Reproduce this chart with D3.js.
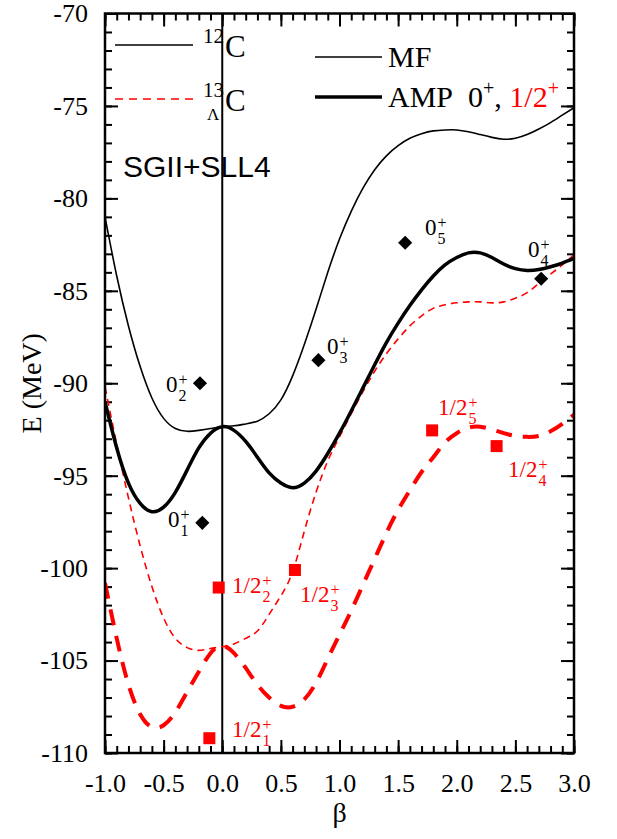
<!doctype html>
<html lang="en">
  <head>
    <meta charset="utf-8">
    <title>E vs beta, 12C and 13C-Lambda</title>
    <script src="https://d3js.org/d3.v7.min.js"></script>
    <style>
    body { margin: 0; background: #fff; }
    text { font-family: "Liberation Serif", "Times New Roman", serif; }
    .axis path { display: none; }
    .axis line { stroke: #000; stroke-width: 2; }
    </style>
  </head>

  <body>
    <svg width="617" height="839"></svg>

    <script>
      // deformation grid (beta) shared by all four curves
      var beta = [-1.0, -0.9, -0.8, -0.7, -0.6, -0.5, -0.4, -0.3, -0.2, -0.1,
                   0.0,  0.1,  0.2,  0.3,  0.4,  0.5,  0.6,  0.7,  0.8,  0.9,
                   1.0,  1.1,  1.2,  1.3,  1.4,  1.5,  1.6,  1.7,  1.8,  1.9,
                   2.0,  2.1,  2.2,  2.3,  2.4,  2.5,  2.6,  2.7,  2.8,  2.9, 3.0];

      // 12C, mean field
      var mfC12 = [-81.0, -84.2, -86.9, -89.1, -90.8, -91.9, -92.45, -92.6, -92.55, -92.45,
                   -92.35, -92.3, -92.2, -92.05, -91.65, -90.9, -89.6, -87.9, -86.0, -84.0,
                   -82.2, -80.7, -79.45, -78.45, -77.7, -77.15, -76.75, -76.5, -76.35, -76.3,
                   -76.3, -76.4, -76.55, -76.7, -76.8, -76.75, -76.55, -76.25, -75.9, -75.5, -75.1];

      // 12C, AMP
      var ampC12 = [-91.0, -93.5, -95.4, -96.5, -96.95, -96.7, -95.9, -94.7, -93.5, -92.7,
                    -92.35, -92.55, -93.15, -94.0, -94.85, -95.4, -95.65, -95.4, -94.75, -93.8,
                    -92.7, -91.5, -90.25, -89.0, -87.8, -86.75, -85.8, -84.95, -84.2, -83.6,
                    -83.2, -82.95, -82.95, -83.2, -83.55, -83.8, -83.9, -83.85, -83.7, -83.5, -83.25];

      // 13LC, mean field
      var mfL13 = [-90.2, -93.3, -96.2, -98.8, -101.0, -102.7, -103.8, -104.3, -104.45, -104.35,
                   -104.25, -104.1, -103.8, -103.4, -102.5, -101.5, -100.2, -98.0, -95.9, -94.2,
                   -92.9, -91.65, -90.45, -89.35, -88.4, -87.6, -86.9, -86.35, -85.95, -85.75,
                   -85.65, -85.6, -85.6, -85.65, -85.6, -85.4, -85.1, -84.6, -84.1, -83.6, -83.05];

      // 13LC, AMP
      var ampL13 = [-100.8, -103.8, -106.3, -107.9, -108.6, -108.5, -107.8, -106.7, -105.6, -104.6,
                    -104.2, -104.6, -105.4, -106.3, -107.0, -107.45, -107.5, -107.1, -106.2, -104.9,
                    -103.6, -102.3, -100.9, -99.5, -98.1, -96.85, -95.8, -94.8, -94.0, -93.2,
                    -92.7, -92.4, -92.35, -92.5, -92.7, -92.85, -92.9, -92.85, -92.6, -92.2, -91.7];

      // AMP levels
      var levels0 = [
        {name: '0', sub: '1', b: -0.17, e: -97.55},
        {name: '0', sub: '2', b: -0.19, e: -90.0},
        {name: '0', sub: '3', b: 0.82, e: -88.75},
        {name: '0', sub: '4', b: 2.72, e: -84.35},
        {name: '0', sub: '5', b: 1.56, e: -82.4}
      ];
      var levelsHalf = [
        {name: '1/2', sub: '1', b: -0.11, e: -109.2},
        {name: '1/2', sub: '2', b: -0.03, e: -101.05},
        {name: '1/2', sub: '3', b: 0.62, e: -100.1},
        {name: '1/2', sub: '4', b: 2.34, e: -93.4},
        {name: '1/2', sub: '5', b: 1.79, e: -92.55}
      ];

      var xTicks = [-1.0, -0.5, 0.0, 0.5, 1.0, 1.5, 2.0, 2.5, 3.0];
      var yTicks = [-110, -105, -100, -95, -90, -85, -80, -75, -70];

      var svg = d3.select('svg');
      var mLeft = 105, mRight = 574, mTop = 13.5, mBottom = 753;

      var x = d3.scaleLinear().domain([-1, 3]).range([mLeft, mRight]);
      var y = d3.scaleLinear().domain([-110, -70]).range([mBottom, mTop]);

      // minor ticks
      var xMinor = d3.range(-10, 31).map(function(i){ return i / 10; });
      var yMinor = d3.range(-110, -69);

      function addAxis(axis, tx, ty) {
        return svg.append('g').attr('class', 'axis')
          .attr('transform', 'translate(' + tx + ',' + ty + ')')
          .call(axis);
      }
      addAxis(d3.axisBottom(x).tickValues(xMinor).tickSize(-7).tickFormat(''), 0, mBottom);
      addAxis(d3.axisTop(x).tickValues(xMinor).tickSize(-7).tickFormat(''), 0, mTop);
      addAxis(d3.axisLeft(y).tickValues(yMinor).tickSize(-7).tickFormat(''), mLeft, 0);
      addAxis(d3.axisRight(y).tickValues(yMinor).tickSize(-7).tickFormat(''), mRight, 0);

      addAxis(d3.axisBottom(x).tickValues(xTicks).tickSize(-13).tickPadding(21)
        .tickFormat(function(d){ return d.toFixed(1); }), 0, mBottom);
      addAxis(d3.axisTop(x).tickValues(xTicks).tickSize(-13).tickFormat(''), 0, mTop);
      addAxis(d3.axisLeft(y).tickValues(yTicks).tickSize(-13).tickPadding(17)
        .tickFormat(function(d){ return String(d); }), mLeft, 0);
      addAxis(d3.axisRight(y).tickValues(yTicks).tickSize(-13).tickFormat(''), mRight, 0);
      svg.selectAll('.axis text').style('font-family', '"Liberation Serif", serif')
        .style('font-size', '26px').attr('fill', '#000');

      // curves
      var line = d3.line()
        .x(function(d){ return x(d[0]); })
        .y(function(d){ return y(d[1]); })
        .curve(d3.curveNatural);

      function series(vals) { return beta.map(function(b, i){ return [b, vals[i]]; }); }

      svg.append('defs').append('clipPath').attr('id', 'clip')
        .append('rect').attr('x', mLeft).attr('y', mTop)
        .attr('width', mRight - mLeft).attr('height', mBottom - mTop);

      var plot = svg.append('g').attr('clip-path', 'url(#clip)');

      plot.append('line')
        .attr('x1', x(0)).attr('x2', x(0)).attr('y1', mTop).attr('y2', mBottom)
        .attr('stroke', '#000').attr('stroke-width', 2);

      plot.append('path').datum(series(mfL13)).attr('d', line)
        .attr('fill', 'none').attr('stroke', '#f00').attr('stroke-width', 1.6)
        .attr('stroke-dasharray', '7,5');
      plot.append('path').datum(series(ampL13)).attr('d', line)
        .attr('fill', 'none').attr('stroke', '#f00').attr('stroke-width', 4)
        .attr('stroke-dasharray', '16,11');
      plot.append('path').datum(series(mfC12)).attr('d', line)
        .attr('fill', 'none').attr('stroke', '#000').attr('stroke-width', 1.6);
      plot.append('path').datum(series(ampC12)).attr('d', line)
        .attr('fill', 'none').attr('stroke', '#000').attr('stroke-width', 3.5);

      // frame
      svg.append('rect')
        .attr('x', mLeft).attr('y', mTop).attr('width', mRight - mLeft).attr('height', mBottom - mTop)
        .attr('fill', 'none').attr('stroke', '#000').attr('stroke-width', 2.5);

      // level markers
      svg.selectAll('.dia').data(levels0).enter().append('rect')
        .attr('x', -5).attr('y', -5).attr('width', 10).attr('height', 10)
        .attr('transform', function(d){ return 'translate(' + x(d.b) + ',' + y(d.e) + ') rotate(45)'; })
        .attr('fill', '#000');
      svg.selectAll('.sq').data(levelsHalf).enter().append('rect')
        .attr('x', function(d){ return x(d.b) - 6; })
        .attr('y', function(d){ return y(d.e) - 6; })
        .attr('width', 12).attr('height', 12)
        .attr('fill', '#f00');

      // label with stacked sub/superscript
      function levelLabel(px, py, main, sub, sup, color, size) {
        var t = svg.append('text').attr('x', px).attr('y', py)
          .style('font-size', size + 'px').attr('fill', color).text(main);
        var w = t.node().getComputedTextLength();
        var s = Math.round(size * 0.7);
        svg.append('text').attr('x', px + w + 1).attr('y', py + size * 0.4)
          .style('font-size', s + 'px').attr('fill', color).text(sub);
        svg.append('text').attr('x', px + w + 1).attr('y', py - size * 0.3)
          .style('font-size', s + 'px').attr('fill', color).text(sup);
      }

      var labelPos0 = {'1': [168, 527], '2': [166, 392], '3': [327, 354], '4': [528, 257], '5': [425, 235]};
      var labelPosHalf = {'1': [232, 737], '2': [232, 593], '3': [300, 602], '4': [508, 477], '5': [438, 415]};
      levels0.forEach(function(d){
        var p = labelPos0[d.sub];
        levelLabel(p[0], p[1], d.name, d.sub, '+', '#000', 23);
      });
      levelsHalf.forEach(function(d){
        var p = labelPosHalf[d.sub];
        levelLabel(p[0], p[1], d.name, d.sub, '+', '#f00', 23);
      });

      // legend
      svg.append('line').attr('x1', 115).attr('x2', 193).attr('y1', 45).attr('y2', 45)
        .attr('stroke', '#000').attr('stroke-width', 1.6);
      svg.append('text').attr('x', 203).attr('y', 43).style('font-size', '21px').text('12');
      svg.append('text').attr('x', 225).attr('y', 57).style('font-size', '31px').text('C');

      svg.append('line').attr('x1', 115).attr('x2', 193).attr('y1', 99).attr('y2', 99)
        .attr('stroke', '#f00').attr('stroke-width', 1.6).attr('stroke-dasharray', '8,6');
      svg.append('text').attr('x', 203).attr('y', 97).style('font-size', '21px').text('13');
      svg.append('text').attr('x', 207).attr('y', 120).style('font-size', '17px').text('\u039B');
      svg.append('text').attr('x', 225).attr('y', 111).style('font-size', '31px').text('C');

      svg.append('line').attr('x1', 315).attr('x2', 382).attr('y1', 57).attr('y2', 57)
        .attr('stroke', '#000').attr('stroke-width', 1.6);
      svg.append('text').attr('x', 388).attr('y', 67).style('font-size', '30px').text('MF');

      svg.append('line').attr('x1', 315).attr('x2', 382).attr('y1', 97).attr('y2', 97)
        .attr('stroke', '#000').attr('stroke-width', 3.5);
      var amp = svg.append('text').attr('x', 388).attr('y', 107).style('font-size', '30px');
      amp.append('tspan').text('AMP\u00A0\u00A00');
      amp.append('tspan').attr('dy', -12).style('font-size', '20px').text('+');
      amp.append('tspan').attr('dy', 12).text(',\u00A0');
      amp.append('tspan').attr('fill', '#f00').text('1/2');
      amp.append('tspan').attr('dy', -12).attr('fill', '#f00').style('font-size', '20px').text('+');

      svg.append('text').attr('x', 123).attr('y', 177)
        .style('font-family', '"Liberation Sans", Arial, sans-serif')
        .style('font-size', '30px').text('SGII+SLL4');

      // axis titles
      svg.append('text').attr('x', (mLeft + mRight) / 2).attr('y', 822)
        .attr('text-anchor', 'middle').style('font-size', '28px').text('\u03B2');
      svg.append('text')
        .attr('transform', 'translate(31,' + ((mTop + mBottom) / 2) + ') rotate(-90)')
        .attr('text-anchor', 'middle').attr('dy', '0.35em')
        .style('font-size', '28px').text('E (MeV)');
    </script>
  </body>
</html>
